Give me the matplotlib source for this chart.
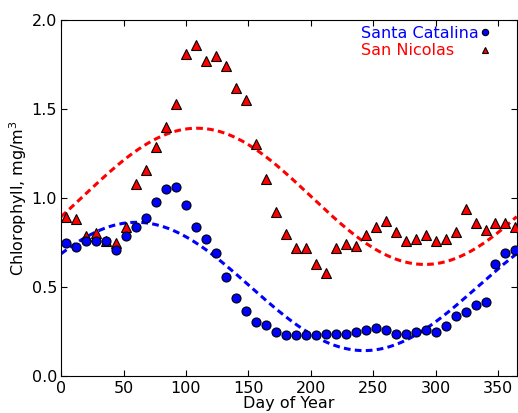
import numpy as np
import matplotlib
matplotlib.use('Agg')
import matplotlib.pyplot as plt

# 8-day composite chlorophyll at the two islands
day = np.arange(4, 365, 8)

santa_catalina = [0.751, 0.728, 0.760, 0.760, 0.760, 0.710, 0.790, 0.840, 0.891, 0.981,
                  1.050, 1.061, 0.962, 0.840, 0.771, 0.691, 0.560, 0.439, 0.370, 0.307,
                  0.289, 0.250, 0.231, 0.231, 0.231, 0.231, 0.240, 0.240, 0.240, 0.250,
                  0.259, 0.270, 0.259, 0.240, 0.240, 0.250, 0.259, 0.250, 0.282, 0.341,
                  0.360, 0.399, 0.420, 0.629, 0.691, 0.710]

san_nicolas = [0.897, 0.882, 0.790, 0.807, 0.760, 0.751, 0.840, 1.080, 1.158, 1.289,
               1.401, 1.529, 1.809, 1.858, 1.768, 1.800, 1.740, 1.619, 1.550, 1.306,
               1.108, 0.921, 0.799, 0.719, 0.719, 0.631, 0.579, 0.719, 0.742, 0.732,
               0.792, 0.840, 0.871, 0.811, 0.762, 0.771, 0.792, 0.762, 0.771, 0.811,
               0.940, 0.859, 0.820, 0.859, 0.859, 0.840]

xticks = [0, 50, 100, 150, 200, 250, 300, 350]
yticks = [0.0, 0.5, 1.0, 1.5, 2.0]


def annual_fit(t, y, tt):
    # least squares fit of mean + one annual harmonic
    w = 2 * np.pi / 365.0
    A = np.column_stack([np.ones_like(t, dtype=float), np.cos(w * t), np.sin(w * t)])
    c, *_ = np.linalg.lstsq(A, np.asarray(y), rcond=None)
    return c[0] + c[1] * np.cos(w * tt) + c[2] * np.sin(w * tt)


tt = np.linspace(0, 365, 400)

plt.rcParams['font.size'] = 11.5
plt.rcParams['xtick.direction'] = 'in'
plt.rcParams['ytick.direction'] = 'in'

fig = plt.figure(figsize=(5.18, 4.13), dpi=100)
ax = fig.add_axes([0.118, 0.0884, 0.8795, 0.863])

dash = (0, (2.2, 1.4))
ax.plot(tt, annual_fit(day, san_nicolas, tt), color='r', lw=2.2, linestyle=dash, zorder=2)
ax.plot(tt, annual_fit(day, santa_catalina, tt), color='b', lw=2.2, linestyle=dash, zorder=2)

h2, = ax.plot(day, san_nicolas, '^', color='r', mec='k', mew=0.8, ms=6.5,
              label='San Nicolas', zorder=3)
h1, = ax.plot(day, santa_catalina, 'o', color='b', mec='k', mew=0.8, ms=6.5,
              label='Santa Catalina', zorder=4)

ax.set_xlim(0, 365)
ax.set_ylim(0, 2.0)
ax.set_xticks(xticks)
ax.set_yticks(yticks)
ax.set_yticklabels(['%.1f' % v for v in yticks])
ax.tick_params(top=True, right=True, length=4, width=0.8, pad=3)
ax.set_xlabel('Day of Year', labelpad=0)
ax.set_ylabel('Chlorophyll, mg/m$^3$', labelpad=2)

leg = ax.legend(handles=[h1, h2], loc='upper right', bbox_to_anchor=(0.951, 1.0015),
                frameon=False, markerfirst=False, markerscale=0.7,
                handlelength=0.4, handletextpad=0.2, borderaxespad=0.0,
                labelspacing=0.15, numpoints=1)
for txt, col in zip(leg.get_texts(), ['b', 'r']):
    txt.set_color(col)

# labels left-aligned, markers stacked in a column on the right
fig.canvas.draw()
renderer = fig.canvas.get_renderer()
for column in leg._legend_handle_box.get_children():
    column.align = 'left'
    rows = column.get_children()
    wmax = max(r.get_bbox(renderer).width for r in rows)
    for r in rows:
        r.width = wmax
        r.mode = 'expand'

fig.savefig('out.png', dpi=100)
